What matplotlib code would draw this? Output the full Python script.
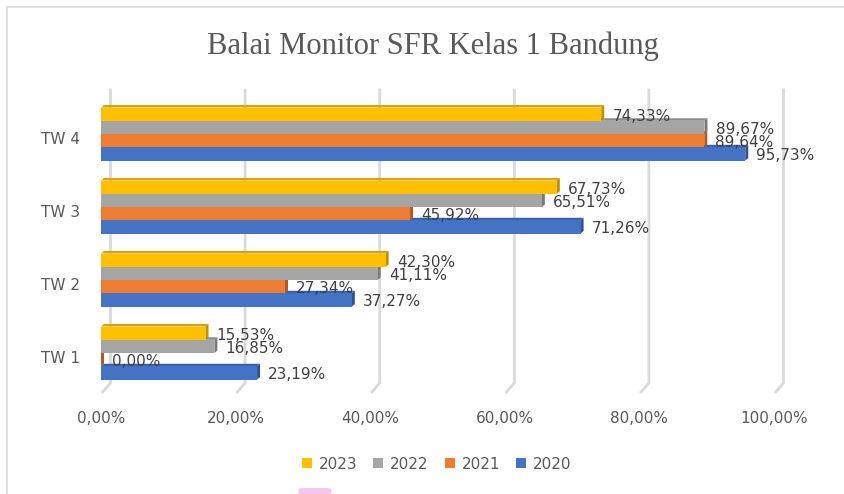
import matplotlib
matplotlib.use("Agg")
import matplotlib.pyplot as plt
from matplotlib.patches import Polygon, Patch, FancyBboxPatch
from matplotlib.lines import Line2D
from matplotlib.transforms import ScaledTranslation

# ---- data ----
categories = ["TW 1", "TW 2", "TW 3", "TW 4"]
years = ["2023", "2022", "2021", "2020"]
v2023 = [15.53, 42.30, 67.73, 74.33]
v2022 = [16.85, 41.11, 65.51, 89.67]
v2021 = [0.00, 27.34, 45.92, 89.64]
v2020 = [23.19, 37.27, 71.26, 95.73]
xticks = [0, 20, 40, 60, 80, 100]
xtick_labels = ["0,00%", "20,00%", "40,00%", "60,00%", "80,00%", "100,00%"]
title = "Balai Monitor SFR Kelas 1 Bandung"

front_colors = {"2023": "#FFC000", "2022": "#A5A5A5", "2021": "#ED7D31", "2020": "#4472C4"}
top_colors = {"2023": "#D9A300", "2022": "#8C8C8C", "2021": "#C9652A", "2020": "#3A62A8"}
side_colors = {"2023": "#BF9000", "2022": "#7A7A7A", "2021": "#AE5A21", "2020": "#2F528F"}
values = {"2023": v2023, "2022": v2022, "2021": v2021, "2020": v2020}

W, H = 845, 494
fig = plt.figure(figsize=(W / 100, H / 100), dpi=100)
ax = fig.add_axes([101 / W, 100 / H, 673 / W, 304 / H])
ax.set_xlim(0, 100)
ax.set_ylim(-0.5616, 3.603)
for s in ax.spines.values():
    s.set_visible(False)

h = 0.1815
offsets = {"2023": 1.5 * h, "2022": 0.5 * h, "2021": -0.5 * h, "2020": -1.5 * h}
dx = 3.0 / 6.73
dy = 2.5 / 73

# gridlines on back wall with floor diagonals
grid_c = "#D9D9D9"
gdx = 9.5 / 6.73
y_top = 3.603
y_floor_back = -0.411
y_floor_front = -0.534
for v in xticks:
    ax.plot([v + gdx, v + gdx, v + 0.25], [y_top, y_floor_back, y_floor_front],
            color=grid_c, lw=2, zorder=0.5, solid_joinstyle="miter", clip_on=False)

# bars: draw bottom series first so upper bars hide lower top faces
z = 2
for yr in ["2020", "2021", "2022", "2023"]:
    vals = values[yr]
    ys = [i + offsets[yr] for i in range(len(categories))]
    for v, y in zip(vals, ys):
        yb, yt = y - h / 2, y + h / 2
        top = Polygon([(0, yt), (dx, yt + dy), (v + dx, yt + dy), (v, yt)],
                      closed=True, fc=top_colors[yr], ec="none", zorder=z)
        side = Polygon([(v, yb), (v + dx, yb + dy), (v + dx, yt + dy), (v, yt)],
                       closed=True, fc=side_colors[yr], ec="none", zorder=z)
        ax.add_patch(top)
        ax.add_patch(side)
    ax.barh(ys, vals, height=h, color=front_colors[yr], zorder=z + 0.5, linewidth=0)
    z += 1

# data labels
for yr in ["2020", "2021", "2022", "2023"]:
    for i, v in enumerate(values[yr]):
        y = i + offsets[yr]
        ax.annotate(f"{v:.2f}".replace(".", ",") + "%", (v, y), xytext=(8, -1.5),
                    textcoords="offset points", ha="left", va="center",
                    fontsize=11, color="#404040", zorder=20)

ax.set_xticks(xticks)
ax.set_xticklabels(xtick_labels)
ax.set_yticks(range(len(categories)))
ax.set_yticklabels(categories)
ax.tick_params(axis="both", length=0, labelsize=11, labelcolor="#595959")
ax.tick_params(axis="x", pad=12)
ax.tick_params(axis="y", pad=15)
for lbl in ax.get_yticklabels():
    lbl.set_transform(lbl.get_transform() + ScaledTranslation(0, -4 / 100, fig.dpi_scale_trans))

fig.text(433 / W, 1 - 46 / H, title, ha="center", va="center",
         family="Liberation Serif", fontsize=22, color="#595959")

handles = [Patch(facecolor=front_colors[y], edgecolor="none") for y in years]
fig.legend(handles, years, loc="center", bbox_to_anchor=(436.5 / W, 1 - 464 / H),
           ncol=4, frameon=False, fontsize=11, handlelength=0.65, handleheight=0.65,
           handletextpad=0.45, columnspacing=1.05, labelcolor="#595959")

# chart border (left and top visible)
fig.add_artist(Line2D([7 / W, 7 / W], [0, 1 - 7 / H], color="#D9D9D9", lw=1.2,
                      transform=fig.transFigure))
fig.add_artist(Line2D([7 / W, 1], [1 - 7 / H, 1 - 7 / H], color="#D9D9D9", lw=1.2,
                      transform=fig.transFigure))
fig.add_artist(FancyBboxPatch((302 / W, -0.01), 26 / W, 0.018,
                              boxstyle="round,pad=0.004", fc="#F5C6F0", ec="none",
                              transform=fig.transFigure))

fig.savefig("out.png", dpi=100)
